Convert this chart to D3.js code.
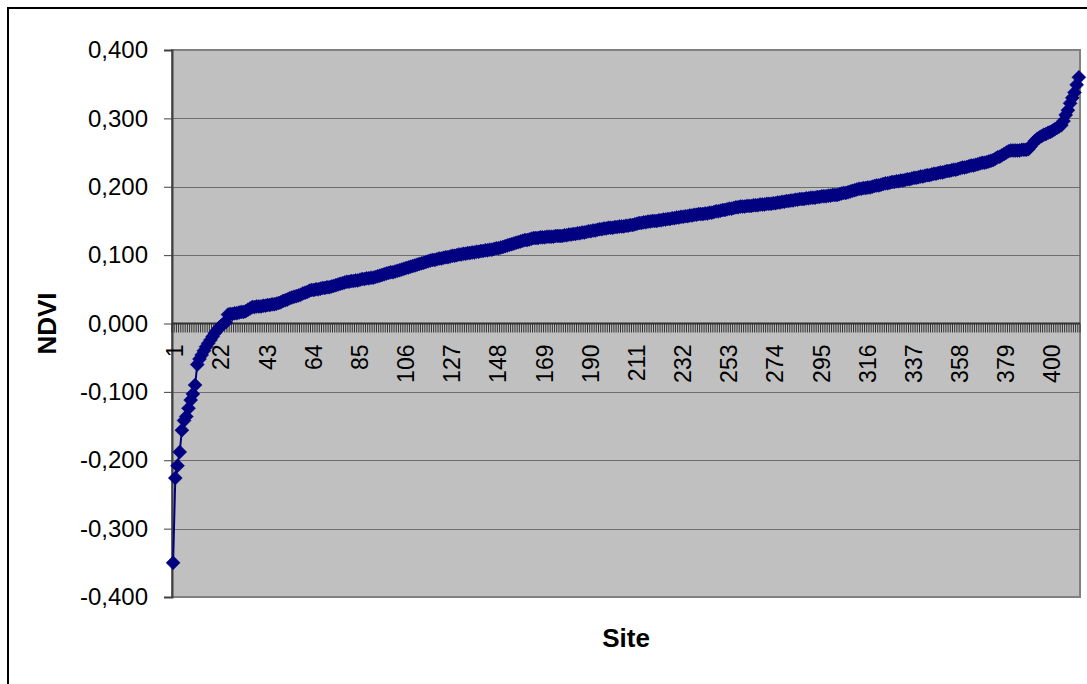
<!DOCTYPE html>
<html>
<head>
<meta charset="utf-8">
<script src="https://cdn.jsdelivr.net/npm/d3@7/dist/d3.min.js"></script>
<style>
  html, body { margin: 0; padding: 0; background: #fff; }
  svg { display: block; font-family: "Liberation Sans", Arial, sans-serif; }
</style>
</head>
<body>
<svg id="chart" width="1087" height="684"></svg>
<script>
// NDVI per site, sorted ascending (site number = position + 1)
const ndvi = [
  -0.350,-0.226,-0.208,-0.188,-0.156,-0.142,-0.136,-0.124,-0.112,-0.103,
  -0.090,-0.060,-0.052,-0.046,-0.040,-0.034,-0.029,-0.024,-0.019,-0.014,
  -0.010,-0.006,-0.003,0.000,0.002,0.013,
  0.014,0.014,0.015,0.015,0.016,0.017,0.017,0.018,0.020,0.022,
  0.024,0.024,0.025,0.025,0.025,0.026,0.026,0.027,0.027,0.028,
  0.028,0.029,0.030,0.031,0.033,0.034,0.035,0.037,
  0.038,0.039,0.040,0.041,0.042,0.044,0.045,0.046,0.048,
  0.049,0.049,0.050,0.050,0.051,0.052,0.052,0.053,0.053,
  0.054,0.055,0.056,0.057,0.058,0.059,0.060,0.061,0.061,
  0.062,0.062,0.063,0.063,0.064,0.065,0.065,0.066,0.066,
  0.067,0.067,0.068,0.069,0.070,0.071,0.072,0.073,0.074,0.075,0.075,0.076,
  0.077,0.078,0.079,0.080,0.081,0.082,0.083,0.084,0.085,0.086,0.087,0.088,0.089,0.090,0.091,0.092,
  0.093,0.093,0.094,0.095,0.095,0.096,0.097,0.097,0.098,0.099,0.099,0.100,0.101,0.101,0.102,0.102,
  0.103,0.103,0.104,0.104,0.105,0.105,0.106,0.106,0.107,0.107,0.108,0.108,0.109,0.110,0.110,
  0.111,0.112,0.113,0.114,0.115,0.116,0.117,0.118,0.119,0.120,0.121,0.122,0.122,0.123,0.124,
  0.125,0.125,0.125,0.126,0.126,0.126,0.127,0.127,0.127,0.127,0.128,0.128,0.128,0.128,0.129,
  0.129,0.130,0.130,0.131,0.131,0.132,0.132,0.133,0.133,0.134,0.135,0.135,0.136,0.136,0.137,
  0.138,0.138,0.139,0.139,0.140,0.140,0.140,0.141,0.141,0.142,0.142,0.142,0.143,0.143,0.144,
  0.144,0.145,0.146,0.147,0.147,0.148,0.148,0.149,0.149,0.150,0.150,0.150,0.151,0.151,0.152,0.152,0.153,0.153,
  0.154,0.154,0.155,0.155,0.156,0.156,0.157,0.157,0.158,0.158,0.159,0.159,0.160,0.160,0.160,0.161,
  0.161,0.162,0.162,0.163,0.164,0.164,0.165,0.166,0.166,0.167,0.168,0.168,0.169,0.170,0.170,
  0.171,0.171,0.171,0.172,0.172,0.172,0.173,0.173,0.173,0.174,0.174,0.174,0.175,0.175,0.175,
  0.176,0.176,0.177,0.177,0.178,0.178,0.179,0.179,0.180,0.180,0.181,0.181,0.182,0.182,0.182,
  0.183,0.183,0.184,0.184,0.184,0.185,0.185,0.186,0.186,0.186,0.187,0.187,0.188,0.188,0.188,
  0.189,0.190,0.191,0.191,0.192,0.193,0.194,0.195,0.196,
  0.197,0.197,0.198,0.198,0.199,0.199,
  0.200,0.201,0.202,0.202,0.203,0.204,0.205,0.205,0.206,
  0.207,0.207,0.208,0.208,0.209,0.209,0.210,0.211,0.211,0.212,0.213,0.213,0.214,0.215,0.215,0.216,
  0.217,0.217,0.218,0.219,0.219,0.220,0.221,0.221,0.222,0.223,0.223,0.224,0.225,0.225,0.226,
  0.227,0.228,0.228,0.229,0.230,0.231,0.231,0.232,0.233,0.234,0.235,0.235,0.236,0.237,0.238,
  0.239,0.241,0.243,0.244,0.246,0.248,0.250,
  0.252,0.253,0.253,0.253,0.253,0.253,0.254,0.254,0.254,0.255,
  0.259,0.263,0.267,0.270,0.272,0.274,0.276,0.277,0.279,0.280,0.282,0.284,0.286,0.288,
  0.290,0.296,0.305,0.312,0.322,0.330,0.338,0.349,0.360
];

// Site numbers written under the category axis
const siteTicks = [1, 22, 43, 64, 85, 106, 127, 148, 169, 190, 211, 232, 253, 274, 295, 316, 337, 358, 379, 400];

// Value axis ticks
const ndviTicks = [-0.4, -0.3, -0.2, -0.1, 0, 0.1, 0.2, 0.3, 0.4];

const yTitle = "NDVI";
const xTitle = "Site";

const svg = d3.select("#chart");
const plot = { left: 172, right: 1080, top: 50, bottom: 597 };

const sites = ndvi.map((v, i) => i + 1);

const x = d3.scaleBand()
  .domain(sites)
  .range([plot.left, plot.right])
  .paddingInner(0).paddingOuter(0);

const y = d3.scaleLinear()
  .domain([-0.4, 0.4])
  .range([plot.bottom, plot.top]);

const commaLocale = d3.formatLocale({
  decimal: ",", thousands: ".", grouping: [3], currency: ["", ""], minus: "-"
});
const fmt = commaLocale.format(".3f");

// chart frame
svg.append("rect")
  .attr("x", 8).attr("y", 8)
  .attr("width", 1100).attr("height", 700)
  .attr("fill", "#fff")
  .attr("stroke", "#000").attr("stroke-width", 2);

// plot background
svg.append("rect")
  .attr("x", plot.left).attr("y", plot.top)
  .attr("width", plot.right - plot.left).attr("height", plot.bottom - plot.top)
  .attr("fill", "#c0c0c0")
  .attr("stroke", "#808080").attr("stroke-width", 2);

// horizontal gridlines
svg.append("g")
  .selectAll("line")
  .data(ndviTicks.filter(t => t !== 0.4 && t !== -0.4 && t !== 0))
  .join("line")
  .attr("x1", plot.left).attr("x2", plot.right)
  .attr("y1", d => Math.round(y(d)) + 0.5).attr("y2", d => Math.round(y(d)) + 0.5)
  .attr("stroke", "#6e6e6e").attr("stroke-width", 1);

// value axis
const yAxis = d3.axisLeft(y)
  .tickValues(ndviTicks)
  .tickFormat(fmt)
  .tickSize(8)
  .tickPadding(16);

const gy = svg.append("g")
  .attr("transform", `translate(${plot.left},0)`)
  .call(yAxis);
gy.select(".domain").attr("stroke", "#404040").attr("stroke-width", 2);
gy.selectAll(".tick line").attr("stroke", "#404040").attr("stroke-width", 1);
gy.selectAll(".tick text")
  .attr("font-size", 24)
  .attr("fill", "#000")
  .attr("font-family", "Liberation Sans, Arial, sans-serif");

// category axis at zero, with a tick mark at every category boundary
const zeroY = y(0);
const boundaries = sites.map(s => x(s)).concat([plot.right]);
svg.append("g")
  .selectAll("line")
  .data(boundaries)
  .join("line")
  .attr("x1", d => d).attr("x2", d => d)
  .attr("y1", zeroY).attr("y2", zeroY + 9)
  .attr("stroke", "#303030").attr("stroke-width", 1);

svg.append("line")
  .attr("x1", plot.left).attr("x2", plot.right)
  .attr("y1", zeroY).attr("y2", zeroY)
  .attr("stroke", "#303030").attr("stroke-width", 2);

// rotated site labels
svg.append("g")
  .selectAll("text")
  .data(siteTicks)
  .join("text")
  .attr("transform", d => `translate(${x(d) + x.bandwidth() / 2 + 2},${zeroY + 21}) rotate(-90)`)
  .attr("text-anchor", "end")
  .attr("dy", "0.35em")
  .attr("font-size", 23)
  .attr("fill", "#000")
  .text(d => d);

// NDVI line and diamond markers
const line = d3.line()
  .x((d, i) => x(sites[i]) + x.bandwidth() / 2)
  .y(d => y(d));

svg.append("path")
  .datum(ndvi)
  .attr("d", line)
  .attr("fill", "none")
  .attr("stroke", "#000080")
  .attr("stroke-width", 2);

const diamond = "M0,-7L7,0L0,7L-7,0Z";
svg.append("g")
  .selectAll("path")
  .data(ndvi)
  .join("path")
  .attr("transform", (d, i) => `translate(${x(sites[i]) + x.bandwidth() / 2},${y(d)})`)
  .attr("d", diamond)
  .attr("fill", "#000080")
  .attr("stroke", "#000080")
  .attr("stroke-width", 0.5);

// axis titles
svg.append("text")
  .attr("transform", `translate(47,${(plot.top + plot.bottom) / 2}) rotate(-90)`)
  .attr("text-anchor", "middle")
  .attr("dy", "0.35em")
  .attr("font-size", 26)
  .attr("font-weight", "bold")
  .attr("fill", "#000")
  .text(yTitle);

svg.append("text")
  .attr("x", 626).attr("y", 638)
  .attr("text-anchor", "middle")
  .attr("dy", "0.35em")
  .attr("font-size", 26)
  .attr("font-weight", "bold")
  .attr("fill", "#000")
  .text(xTitle);
</script>
</body>
</html>
